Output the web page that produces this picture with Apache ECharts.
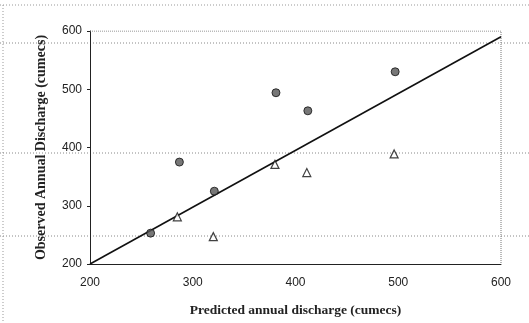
<!DOCTYPE html>
<html>
<head>
<meta charset="utf-8">
<script src="https://cdn.jsdelivr.net/npm/echarts@6/dist/echarts.min.js"></script>
<style>
  html, body { margin: 0; padding: 0; background: #fff; }
  #chart { width: 529px; height: 323px; }
</style>
</head>
<body>
<div id="chart"></div>
<script>
// circles and triangles: [predicted, observed]
var circlePoints = [[259, 253], [287, 375], [321, 325], [381, 494], [412, 463], [497, 530]];
var trianglePoints = [[285, 281], [320, 247], [380, 371], [411, 357], [496, 389]];
var fitLine = [[200, 200], [600, 590]];
var tickValues = [200, 300, 400, 500, 600];

var myChart = echarts.init(document.getElementById("chart"));
var dotted = { type: "dotted", color: "#777", width: 1 };

var option = {
    backgroundColor: "#ffffff",
    animation: false,
    grid: { left: 90, right: 28, top: 31, bottom: 59 },
    graphic: [
        // scan leftovers: dotted page rules
        { type: "line", shape: { x1: 0, y1: 5, x2: 529, y2: 5 }, style: { stroke: "#999", lineDash: [1, 2] } },
        { type: "line", shape: { x1: 3, y1: 5, x2: 3, y2: 323 }, style: { stroke: "#999", lineDash: [1, 2] } },
        { type: "line", shape: { x1: 0, y1: 43, x2: 529, y2: 43 }, style: { stroke: "#888", lineDash: [1, 2] } },
        { type: "line", shape: { x1: 0, y1: 153, x2: 529, y2: 153 }, style: { stroke: "#888", lineDash: [1, 2] } },
        { type: "line", shape: { x1: 0, y1: 236, x2: 529, y2: 236 }, style: { stroke: "#888", lineDash: [1, 2] } }
    ],
    xAxis: {
        type: "value",
        min: 200,
        max: 600,
        interval: 100,
        name: "Predicted annual discharge (cumecs)",
        nameLocation: "middle",
        nameGap: 40,
        nameTextStyle: { fontFamily: "Liberation Serif", fontWeight: "bold", fontSize: 13.5, color: "#222" },
        axisLine: { show: true, lineStyle: { color: "#222", width: 1 } },
        axisTick: { show: false },
        axisLabel: { margin: 13, fontFamily: "Liberation Sans", fontSize: 12, color: "#222",
            formatter: function(v) { return tickValues.indexOf(v) >= 0 ? String(v) : ""; } },
        splitLine: { show: false }
    },
    yAxis: {
        type: "value",
        min: 200,
        max: 600,
        interval: 100,
        name: "Observed Annual Discharge (cumecs)",
        nameLocation: "middle",
        nameGap: 42,
        nameTextStyle: { fontFamily: "Liberation Serif", fontWeight: "bold", fontSize: 14, color: "#222" },
        axisLine: { show: true, lineStyle: { color: "#222", width: 1 } },
        axisTick: { show: true, length: 3, lineStyle: { color: "#222" } },
        axisLabel: { margin: 8, fontFamily: "Liberation Sans", fontSize: 12, color: "#222" },
        splitLine: { show: false }
    },
    series: [
        {
            // dotted frame on top and right of plot
            type: "line",
            data: [[200, 600], [600, 600], [600, 200]],
            symbol: "none",
            silent: true,
            lineStyle: dotted,
            z: 1
        },
        {
            type: "line",
            data: fitLine,
            symbol: "none",
            lineStyle: { color: "#111", width: 1.6 },
            z: 2
        },
        {
            type: "scatter",
            data: circlePoints,
            symbol: "circle",
            symbolSize: 8,
            itemStyle: { color: "#555", borderColor: "#111", borderWidth: 1 },
            z: 3
        },
        {
            type: "scatter",
            data: trianglePoints,
            symbol: "triangle",
            symbolSize: 8,
            itemStyle: { color: "#fff", borderColor: "#111", borderWidth: 1.2 },
            z: 3
        }
    ]
};
myChart.setOption(option);
</script>
</body>
</html>
